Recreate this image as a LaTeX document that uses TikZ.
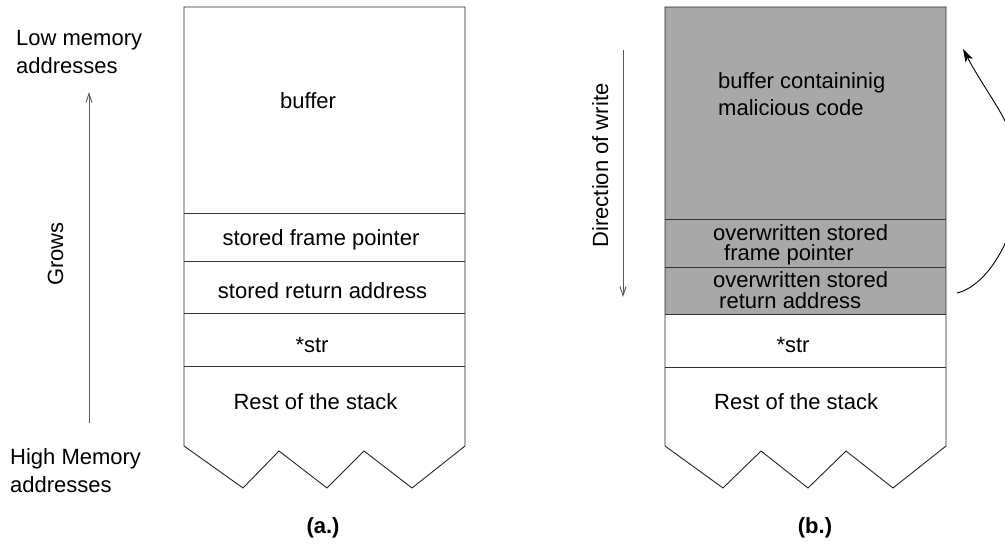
\documentclass[tikz,border=0pt]{standalone}
\usepackage{fontspec}
\setmainfont{Liberation Sans}
\usetikzlibrary{arrows.meta}
\tikzset{
  frame/.style={draw=black!85, line width=0.9pt, line join=miter},
  divider/.style={draw=black!80, line width=0.9pt},
  lbl/.style={inner sep=0pt, font=\fontsize{22}{26}\selectfont},
  figcap/.style={inner sep=0pt, font=\fontsize{22}{26}\selectfont\bfseries},
  axis/.style={draw=black!65, line width=0.9pt, -{Straight Barb[length=9pt,width=6pt,line width=0.9pt]}},
  jump/.style={draw=black, line width=0.9pt, -{Stealth[length=13pt,width=8pt,inset=3pt]}},
}
\begin{document}
\begin{tikzpicture}[x=1pt,y=-1pt]
\clip (0,0) rectangle (1005,544);
\fill[white] (0,0) rectangle (1005,544);

% ---------- (a.) normal stack ----------
\draw[frame] (184,7) -- (465,7) -- (465,446) -- (412,488) -- (364,451)
  -- (327,488) -- (279,451) -- (243,488) -- (184,446) -- cycle;
\draw[divider] (184,213) -- (465,213);
\draw[divider] (184,261) -- (465,261);
\draw[divider] (184,313) -- (465,313);
\draw[divider] (184,366) -- (465,366);

\node[lbl, anchor=base] (abuf) at (308,108) {buffer};
\node[lbl, anchor=base] (afp)  at (321,245) {stored frame pointer};
\node[lbl, anchor=base] (aret) at (322.5,298) {stored return address};
\node[lbl, anchor=base] (astr) at (312,352) {*str};
\node[lbl, anchor=base] (arest) at (315.5,409) {Rest of the stack};
\node[figcap, anchor=base] (acap) at (323,533) {(a.)};

% growth direction
\node[lbl, anchor=base west] (low1) at (16,45) {Low memory};
\node[lbl, anchor=base west] (low2) at (16,73) {addresses};
\node[lbl, anchor=base west] (high1) at (10,464) {High Memory};
\node[lbl, anchor=base west] (high2) at (10,492) {addresses};
\coordinate (gbot) at (89,423);
\coordinate (gtop) at (89,92);
\draw[axis] (gbot) -- (gtop);
\node[lbl, anchor=base, rotate=90] (grows) at (63,254) {Grows};

% ---------- (b.) smashed stack ----------
\fill[black!34] (665,7) rectangle (946,314);
\draw[frame] (665,7) -- (946,7) -- (946,446) -- (893,488) -- (846,451)
  -- (808,488) -- (761,451) -- (723,488) -- (665,446) -- cycle;
\draw[divider] (665,219) -- (946,219);
\draw[divider] (665,267) -- (946,267);
\draw[divider] (665,314) -- (946,314);
\draw[divider] (665,367) -- (946,367);

\node[lbl, anchor=base west] (bbuf1) at (718,88) {buffer containinig};
\node[lbl, anchor=base west] (bbuf2) at (718,115) {malicious code};
\node[lbl, anchor=base west] (bfp1) at (713,240) {overwritten stored};
\node[lbl, anchor=base west] (bfp2) at (724,260) {frame pointer};
\node[lbl, anchor=base west] (bret1) at (713,287) {overwritten stored};
\node[lbl, anchor=base west] (bret2) at (719,308) {return address};
\node[lbl, anchor=base] (bstr) at (793,352) {*str};
\node[lbl, anchor=base west] (brest) at (714,409) {Rest of the stack};
\node[figcap, anchor=base] (bcap) at (815,533) {(b.)};

% write direction
\coordinate (wtop) at (623,50);
\coordinate (wbot) at (623,297);
\draw[axis] (wtop) -- (wbot);
\node[lbl, anchor=base, rotate=90] (wdir) at (608,165.5) {Direction of write};

% return address now points into the buffer
\coordinate (rfrom) at (957,293);
\coordinate (rmid) at (1020,177);
\coordinate (rto) at (963,49);
\draw[jump] (rfrom) .. controls (990,285) and (1020,230) .. (rmid)
  .. controls (1020,130) and (990,100) .. (rto);
\end{tikzpicture}
\end{document}
